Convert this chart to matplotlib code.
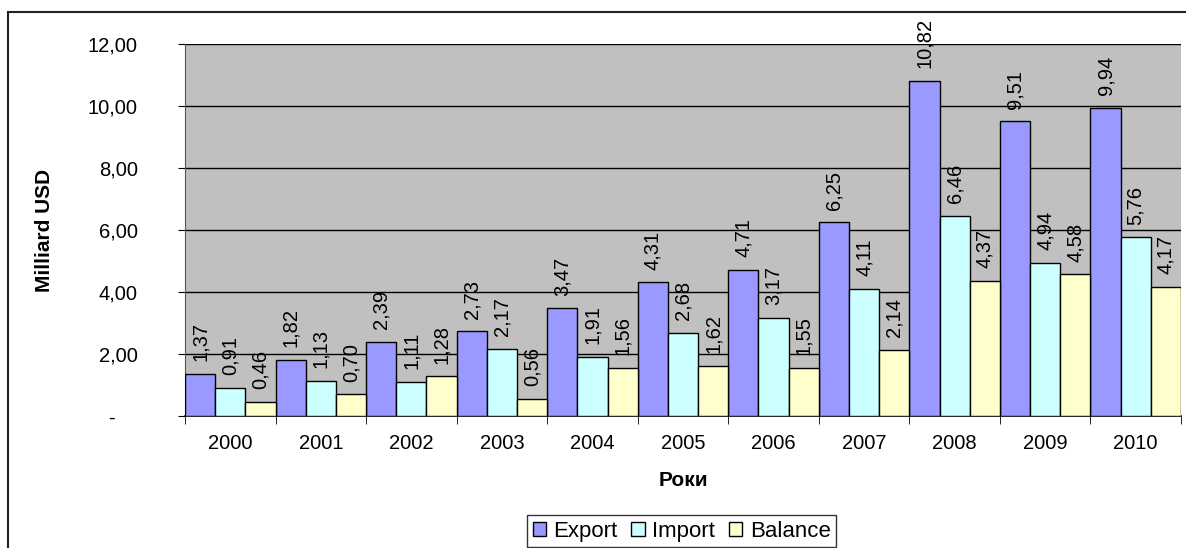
import matplotlib.pyplot as plt
import numpy as np
from matplotlib.patches import Rectangle

years = ["2000", "2001", "2002", "2003", "2004", "2005", "2006", "2007", "2008", "2009", "2010"]
export = [1.37, 1.82, 2.39, 2.73, 3.47, 4.31, 4.71, 6.25, 10.82, 9.51, 9.94]
imports = [0.91, 1.13, 1.11, 2.17, 1.91, 2.68, 3.17, 4.11, 6.46, 4.94, 5.76]
balance = [0.46, 0.70, 1.28, 0.56, 1.56, 1.62, 1.55, 2.14, 4.37, 4.58, 4.17]

series = [("Export", export, "#9999FF"),
          ("Import", imports, "#CCFFFF"),
          ("Balance", balance, "#FFFFCC")]

plt.rcParams["font.family"] = ["Liberation Sans", "DejaVu Sans"]
FS = 14.5

fig = plt.figure(figsize=(11.86, 5.48), dpi=100)
ax = fig.add_axes([185 / 1186, 1 - 416 / 548, (1181 - 185) / 1186, (416 - 44) / 548])

# рамка навколо діаграми
fig.patches.append(Rectangle((8 / 1186, -0.1), 1.2, 1 - 12 / 548 + 0.1,
                             transform=fig.transFigure, fill=False,
                             edgecolor="#222222", linewidth=1.5, zorder=0))

x = np.arange(len(years))
w = 1 / 3
for i, (name, vals, col) in enumerate(series):
    pos = x - 0.5 + w * (i + 0.5)
    ax.bar(pos, vals, width=w, color=col, edgecolor="black", linewidth=1.0,
           label=name, zorder=3)
    for p, v in zip(pos, vals):
        ax.annotate(f"{v:.2f}".replace(".", ","), (p, v), xytext=(0, 9),
                    textcoords="offset points", rotation=90, ha="center",
                    va="bottom", fontsize=FS, zorder=4)

ax.set_facecolor("#C0C0C0")
ax.set_xlim(-0.5, len(years) - 0.5)
ax.set_ylim(0, 12)
yt = np.arange(0, 13, 2)
ax.set_yticks(yt)
ax.set_yticklabels(["-    "] + [f"{v:.2f}".replace(".", ",") for v in yt[1:]], fontsize=FS)
ax.yaxis.grid(True, color="black", linewidth=1.0, zorder=1)
ax.set_axisbelow(True)

ax.set_xticks(x)
ax.set_xticklabels(years, fontsize=FS)
ax.set_xticks(np.arange(-0.5, len(years), 1), minor=True)
ax.tick_params(axis="x", which="major", length=0, pad=13)
ax.tick_params(axis="x", which="minor", length=6, direction="out")
ax.tick_params(axis="y", length=5, direction="out", pad=29)

for s in ["top", "right"]:
    ax.spines[s].set_visible(False)
ax.spines["left"].set_color("#555555")
ax.spines["bottom"].set_linewidth(1.2)

ax.set_ylabel("Milliard USD", fontsize=15, fontweight="bold", va="center")
ax.yaxis.set_label_coords((45 - 185) / 996, 0.5)
ax.set_xlabel("Роки", fontsize=15, fontweight="bold", va="center")
ax.xaxis.set_label_coords(0.5, -64 / 372)

fig.legend(loc="upper center", bbox_to_anchor=(681.5 / 1186, 1 - 515 / 548), ncol=3,
           fontsize=16, frameon=True, fancybox=False, edgecolor="black",
           handlelength=0.6, handleheight=0.6, handletextpad=0.35,
           columnspacing=0.6, borderpad=0.25, borderaxespad=0)

plt.savefig("out.png", dpi=100)
